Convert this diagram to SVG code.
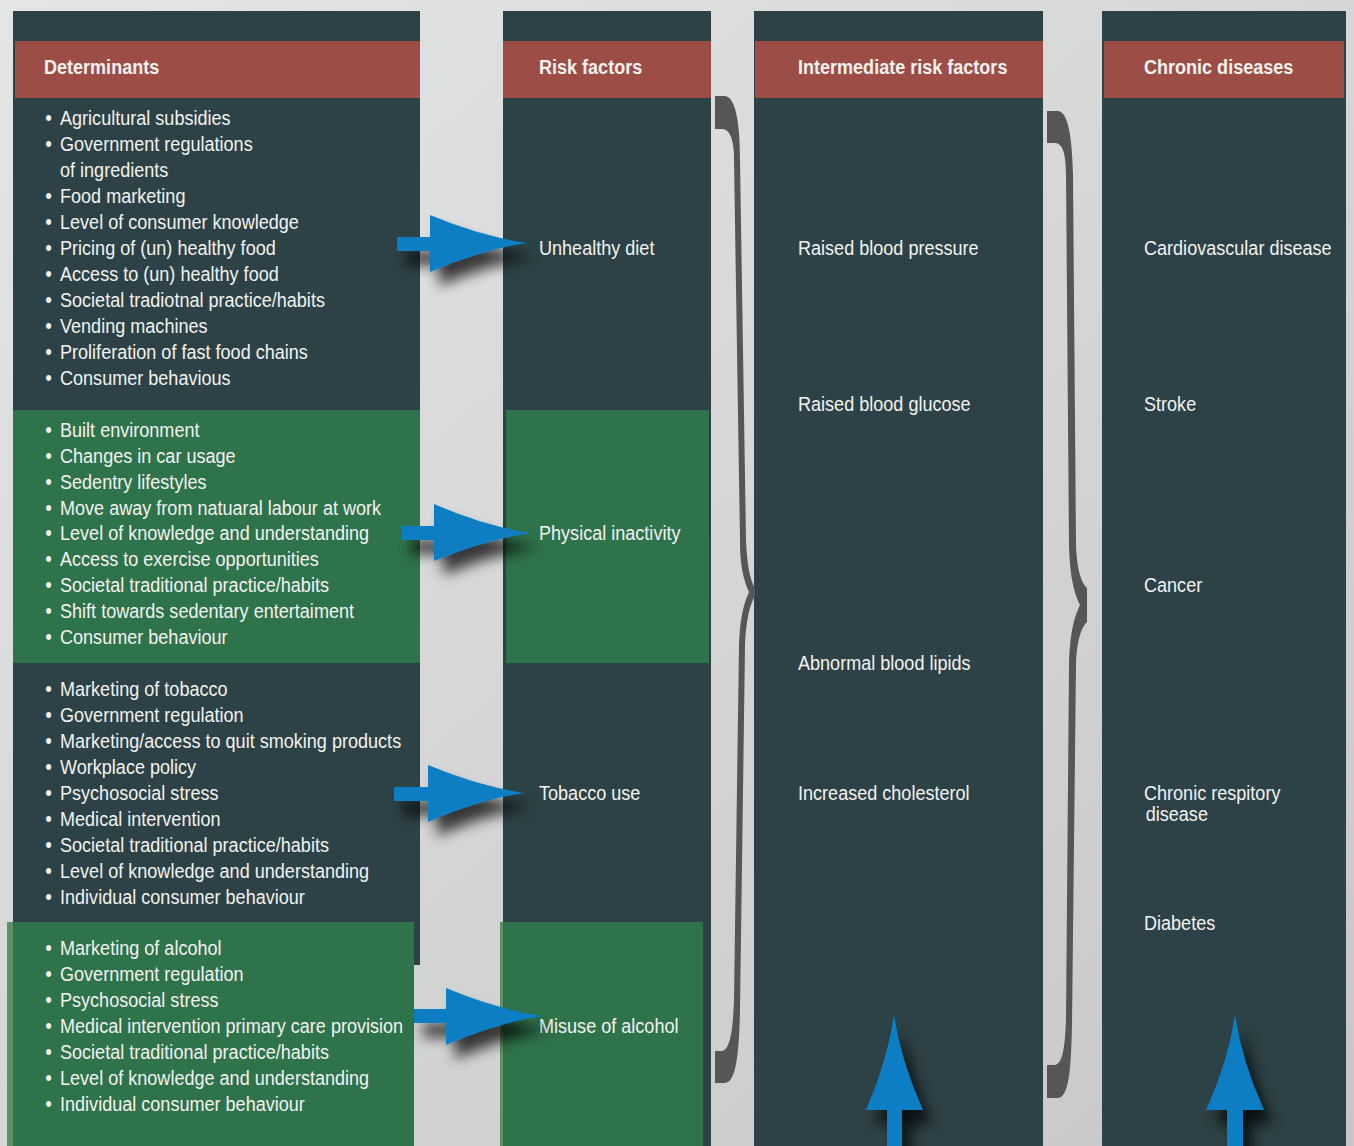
<svg xmlns="http://www.w3.org/2000/svg" width="1354" height="1146" viewBox="0 0 1354 1146">
<defs>
<linearGradient id="bg" x1="0" y1="0" x2="1" y2="1">
<stop offset="0" stop-color="#e4e5e5"/>
<stop offset="1" stop-color="#c7c7c7"/>
</linearGradient>
<filter id="sh" x="-50%" y="-50%" width="200%" height="200%">
<feGaussianBlur in="SourceAlpha" stdDeviation="7"/>
<feOffset dx="9" dy="14" result="b"/>
<feComponentTransfer><feFuncA type="linear" slope="0.75"/></feComponentTransfer>
<feMerge><feMergeNode/><feMergeNode in="SourceGraphic"/></feMerge>
</filter>
</defs>
<style>
.col{fill:#2d4246}
.hdr{fill:#9c4e46}
.grn{fill:#2f734a}
.grl{fill:#5e9264}
text{font-family:"Liberation Sans Narrow","Liberation Sans",Arial,sans-serif;fill:#f2f2f2;font-size:21px}
.h{font-weight:bold;font-size:20.5px}
.b{font-size:22px}
.arr{fill:#0a7dc4}
.br{fill:#565656}
</style>
<rect width="1354" height="1146" fill="url(#bg)"/>

<g id="col-determinants">
<rect class="col" x="13" y="11" width="407" height="954"/>
<rect class="hdr" x="15" y="41" width="405" height="57"/>
<text class="h" x="44" y="74" transform="translate(44 0) scale(0.88 1) translate(-44 0)">Determinants</text>
</g>
<g id="col-risk">
<rect class="col" x="503" y="11" width="208" height="1135"/>
<rect class="hdr" x="503" y="41" width="208" height="57"/>
<text class="h" x="539" y="74" transform="translate(539 0) scale(0.88 1) translate(-539 0)">Risk factors</text>
</g>
<g id="col-intermediate">
<rect class="col" x="754" y="11" width="289" height="1135"/>
<rect class="hdr" x="755" y="41" width="288" height="57"/>
<text class="h" x="798" y="74" transform="translate(798 0) scale(0.88 1) translate(-798 0)">Intermediate risk factors</text>
</g>
<g id="col-chronic">
<rect class="col" x="1102" y="11" width="244" height="1135"/>
<rect class="hdr" x="1104" y="41" width="240" height="57"/>
<text class="h" x="1144" y="74" transform="translate(1144 0) scale(0.88 1) translate(-1144 0)">Chronic diseases</text>
</g>

<g id="det-diet">
<g transform="translate(60 0) scale(0.86 1) translate(-60 0)">
<text class="b" x="43" y="125">•</text><text x="60" y="125">Agricultural subsidies</text>
<text class="b" x="43" y="151">•</text><text x="60" y="151">Government regulations</text>
<text x="60" y="177">of ingredients</text>
<text class="b" x="43" y="203">•</text><text x="60" y="203">Food marketing</text>
<text class="b" x="43" y="229">•</text><text x="60" y="229">Level of consumer knowledge</text>
<text class="b" x="43" y="255">•</text><text x="60" y="255">Pricing of (un) healthy food</text>
<text class="b" x="43" y="281">•</text><text x="60" y="281">Access to (un) healthy food</text>
<text class="b" x="43" y="307">•</text><text x="60" y="307">Societal tradiotnal practice/habits</text>
<text class="b" x="43" y="333">•</text><text x="60" y="333">Vending machines</text>
<text class="b" x="43" y="359">•</text><text x="60" y="359">Proliferation of fast food chains</text>
<text class="b" x="43" y="385">•</text><text x="60" y="385">Consumer behavious</text>
</g>
</g>

<g id="det-activity">
<rect class="grn" x="13" y="410" width="407" height="253"/>
<g transform="translate(60 0) scale(0.86 1) translate(-60 0)">
<text class="b" x="43" y="437">•</text><text x="60" y="437">Built environment</text>
<text class="b" x="43" y="463">•</text><text x="60" y="463">Changes in car usage</text>
<text class="b" x="43" y="489">•</text><text x="60" y="489">Sedentry lifestyles</text>
<text class="b" x="43" y="515">•</text><text x="60" y="515">Move away from natuaral labour at work</text>
<text class="b" x="43" y="540">•</text><text x="60" y="540">Level of knowledge and understanding</text>
<text class="b" x="43" y="566">•</text><text x="60" y="566">Access to exercise opportunities</text>
<text class="b" x="43" y="592">•</text><text x="60" y="592">Societal traditional practice/habits</text>
<text class="b" x="43" y="618">•</text><text x="60" y="618">Shift towards sedentary entertaiment</text>
<text class="b" x="43" y="644">•</text><text x="60" y="644">Consumer behaviour</text>
</g>
</g>

<g id="det-tobacco">
<g transform="translate(60 0) scale(0.86 1) translate(-60 0)">
<text class="b" x="43" y="696">•</text><text x="60" y="696">Marketing of tobacco</text>
<text class="b" x="43" y="722">•</text><text x="60" y="722">Government regulation</text>
<text class="b" x="43" y="748">•</text><text x="60" y="748">Marketing/access to quit smoking products</text>
<text class="b" x="43" y="774">•</text><text x="60" y="774">Workplace policy</text>
<text class="b" x="43" y="800">•</text><text x="60" y="800">Psychosocial stress</text>
<text class="b" x="43" y="826">•</text><text x="60" y="826">Medical intervention</text>
<text class="b" x="43" y="852">•</text><text x="60" y="852">Societal traditional practice/habits</text>
<text class="b" x="43" y="878">•</text><text x="60" y="878">Level of knowledge and understanding</text>
<text class="b" x="43" y="904">•</text><text x="60" y="904">Individual consumer behaviour</text>
</g>
</g>

<g id="det-alcohol">
<rect class="grl" x="7" y="922" width="407" height="224"/>
<rect class="grn" x="13" y="922" width="401" height="224"/>
<g transform="translate(60 0) scale(0.86 1) translate(-60 0)">
<text class="b" x="43" y="955">•</text><text x="60" y="955">Marketing of alcohol</text>
<text class="b" x="43" y="981">•</text><text x="60" y="981">Government regulation</text>
<text class="b" x="43" y="1007">•</text><text x="60" y="1007">Psychosocial stress</text>
<text class="b" x="43" y="1033">•</text><text x="60" y="1033">Medical intervention primary care provision</text>
<text class="b" x="43" y="1059">•</text><text x="60" y="1059">Societal traditional practice/habits</text>
<text class="b" x="43" y="1085">•</text><text x="60" y="1085">Level of knowledge and understanding</text>
<text class="b" x="43" y="1111">•</text><text x="60" y="1111">Individual consumer behaviour</text>
</g>
</g>

<g id="rf-diet"><text x="539" y="255" transform="translate(539 0) scale(0.86 1) translate(-539 0)">Unhealthy diet</text></g>
<g id="rf-activity">
<rect class="grn" x="506" y="410" width="203" height="253"/>
<text x="539" y="540" transform="translate(539 0) scale(0.86 1) translate(-539 0)">Physical inactivity</text>
</g>
<g id="rf-tobacco"><text x="539" y="800" transform="translate(539 0) scale(0.86 1) translate(-539 0)">Tobacco use</text></g>
<g id="rf-alcohol">
<rect class="grl" x="500" y="922" width="203" height="224"/>
<rect class="grn" x="503" y="922" width="200" height="224"/>
<text x="539" y="1033" transform="translate(539 0) scale(0.86 1) translate(-539 0)">Misuse of alcohol</text>
</g>

<g id="intermediate-labels" transform="translate(798 0) scale(0.86 1) translate(-798 0)">
<g id="ir-bp"><text x="798" y="255">Raised blood pressure</text></g>
<g id="ir-glucose"><text x="798" y="411">Raised blood glucose</text></g>
<g id="ir-lipids"><text x="798" y="670">Abnormal blood lipids</text></g>
<g id="ir-chol"><text x="798" y="800">Increased cholesterol</text></g>
</g>

<g id="chronic-labels" transform="translate(1144 0) scale(0.86 1) translate(-1144 0)">
<g id="cd-cvd"><text x="1144" y="255">Cardiovascular disease</text></g>
<g id="cd-stroke"><text x="1144" y="411">Stroke</text></g>
<g id="cd-cancer"><text x="1144" y="592">Cancer</text></g>
<g id="cd-resp"><text x="1144" y="800">Chronic respitory</text><text x="1146" y="821">disease</text></g>
<g id="cd-diabetes"><text x="1144" y="930">Diabetes</text></g>
</g>

<g id="connectors">
<path class="br" d="M715,96 L725,96 C735,97 740,120 740,160 L746,540 C747,565 750,580 755,588 L755,596 C750,604 746,620 745,645 L740,1010 C739,1060 735,1082 725,1083 L715,1083 L715,1051 L722,1051 C730,1050 733,1030 734,1000 L739,645 C740,620 743,605 749,592 C743,578 740,565 740,540 L734,160 C734,140 730,129 722,129 L715,129 Z"/>
<path class="br" d="M1047,111 L1058,111 C1068,112 1072,135 1073,175 L1076,545 C1077,570 1081,582 1087,588 L1087,622 C1081,628 1077,640 1076,665 L1072,1025 C1071,1075 1068,1097 1058,1098 L1047,1098 L1047,1065 L1055,1065 C1063,1064 1065,1045 1066,1020 L1069,665 C1070,635 1073,620 1080,605 C1073,590 1070,575 1069,545 L1066,175 C1066,155 1063,143 1055,143 L1047,143 Z"/>
<g filter="url(#sh)">
<path class="arr" d="M397,237 L430,237 L430,215 Q480,236 527,243 Q480,250 430,272 L430,251 L397,251 Z"/>
<path class="arr" d="M402,526 L434,526 L434,504 Q484,526 531,533 Q484,540 434,561 L434,540 L402,540 Z"/>
<path class="arr" d="M394,787 L428,787 L428,765 Q478,786 524,793 Q478,800 428,822 L428,801 L394,801 Z"/>
<path class="arr" d="M414,1009 L446,1009 L446,988 Q496,1009 542,1016 Q496,1023 446,1045 L446,1023 L414,1023 Z"/>
<path class="arr" d="M887,1146 L887,1110 L866,1110 Q887,1062 894,1015 Q901,1062 923,1110 L902,1110 L902,1146 Z"/>
<path class="arr" d="M1227,1146 L1227,1110 L1206,1110 Q1228,1062 1235,1015 Q1242,1062 1264,1110 L1243,1110 L1243,1146 Z"/>
</g>
</g>
</svg>
